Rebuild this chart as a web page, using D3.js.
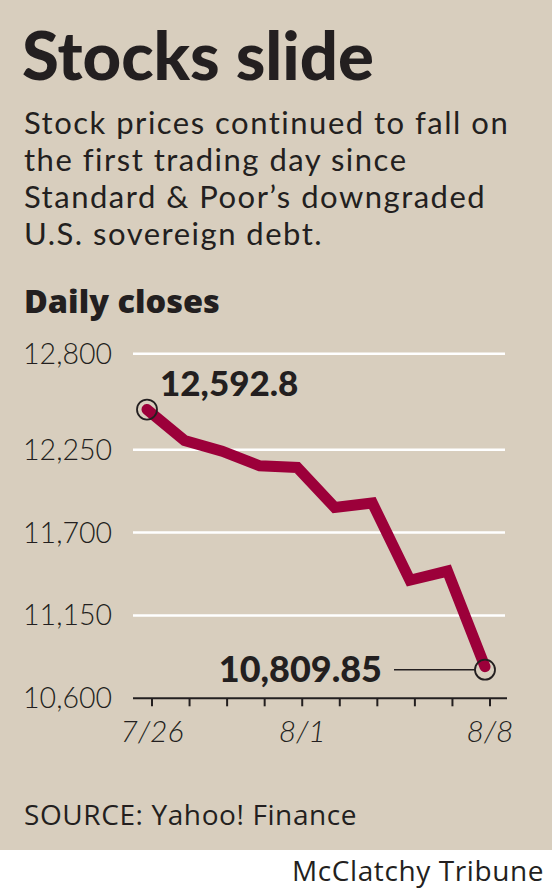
<!DOCTYPE html>
<html>
<head>
<meta charset="utf-8">
<script src="https://cdn.jsdelivr.net/npm/d3@7"></script>
<style>
  html, body { margin: 0; padding: 0; background: #ffffff; }
  svg { display: block; }
</style>
</head>
<body>
<svg id="chart" width="552" height="892"></svg>
<script>
// ---- data ----
const dates = ["7/26", "7/27", "7/28", "7/29", "8/1", "8/2", "8/3", "8/4", "8/5", "8/8"];
const closes = [12480, 12302.55, 12240.11, 12143.24, 12132.49, 11866.62, 11896.44, 11383.68, 11444.61, 10809.85];
const yTicks = [10600, 11150, 11700, 12250, 12800];
const xTickLabels = ["7/26", "8/1", "8/8"];
const firstLabel = "12,592.8";
const lastLabel = "10,809.85";
const title = "Stocks slide";
const subtitle = ["Stock prices continued to fall on", "the first trading day since", "Standard & Poor\u2019s downgraded", "U.S. sovereign debt."];
const chartLabel = "Daily closes";
const source = "SOURCE: Yahoo! Finance";
const credit = "McClatchy Tribune";

// ---- styles ----
const BG = "#d8cebe", INK = "#231f20", RED = "#9c003a";
const HEAVY = "Lato, sans-serif";
const BODY = "'Open Sans', Lato, sans-serif";

const svg = d3.select("#chart");
svg.append("rect").attr("x", 0).attr("y", 0).attr("width", 552).attr("height", 850).attr("fill", BG);

// header
svg.append("text").attr("x", 22).attr("y", 80)
  .attr("font-family", HEAVY).attr("font-weight", 900).attr("font-size", 67)
  .attr("fill", INK).text(title);

svg.append("g").selectAll("text").data(subtitle).join("text")
  .attr("x", 24).attr("y", (d, i) => 133.5 + i * 37.3)
  .attr("font-family", HEAVY).attr("font-weight", 400).attr("font-size", 31)
  .attr("letter-spacing", 1.5)
  .attr("fill", INK).text(d => d);

svg.append("text").attr("x", 24).attr("y", 313)
  .attr("font-family", BODY).attr("font-weight", 800).attr("font-size", 32.5)
  .attr("fill", INK).text(chartLabel);

// scales
const left = 133, right = 507;
const x = d3.scalePoint().domain(dates).range([147, 485]);
const y = d3.scaleLinear().domain([10600, 12250, 12800]).range([698.3, 449.7, 353.7]);

// gridlines
svg.append("g").selectAll("line").data(yTicks.filter(v => v !== 10600)).join("line")
  .attr("x1", left).attr("x2", right - 2)
  .attr("y1", d => y(d)).attr("y2", d => y(d))
  .attr("stroke", "#ffffff").attr("stroke-width", 2.6);

// y labels
svg.append("g").selectAll("text").data(yTicks).join("text")
  .attr("x", 112).attr("y", d => y(d) + 10)
  .attr("text-anchor", "end")
  .attr("font-family", HEAVY).attr("font-weight", 300).attr("font-size", 28.5)
  .attr("fill", INK).text(d => d3.format(",")(d));

// x axis
svg.append("line").attr("x1", left).attr("x2", right)
  .attr("y1", y(10600)).attr("y2", y(10600))
  .attr("stroke", INK).attr("stroke-width", 2);

const xAxis = d3.axisBottom(x).tickSize(8).tickPadding(14)
  .tickFormat(d => xTickLabels.includes(d) ? d : "");
const gx = svg.append("g").attr("transform", `translate(4.5,${y(10600)})`).call(xAxis);
gx.select(".domain").remove();
gx.selectAll(".tick line").attr("stroke", INK).attr("stroke-width", 2);
gx.selectAll(".tick text")
  .attr("font-family", HEAVY).attr("font-weight", 300).attr("font-style", "italic")
  .attr("font-size", 30).attr("fill", INK).attr("dy", "0.71em");

// line
const line = d3.line().x((d, i) => x(dates[i])).y(d => y(d));
svg.append("path").datum(closes)
  .attr("d", line).attr("fill", "none").attr("stroke", RED)
  .attr("stroke-width", 11).attr("stroke-linecap", "round").attr("stroke-linejoin", "miter");

// end circles
const ends = [0, closes.length - 1];
svg.append("g").selectAll("circle").data(ends).join("circle")
  .attr("cx", i => x(dates[i])).attr("cy", i => y(closes[i]) + (i === 0 ? 0 : 3))
  .attr("r", 10).attr("fill", "none").attr("stroke", INK).attr("stroke-width", 1.8);

// leader line to last point
const lx = x(dates[dates.length - 1]), ly = y(closes[closes.length - 1]) + 3;
svg.append("line").attr("x1", 394).attr("x2", lx - 10).attr("y1", ly).attr("y2", ly)
  .attr("stroke", INK).attr("stroke-width", 1.6);

// value labels
svg.append("text").attr("x", x(dates[0]) + 13).attr("y", 395.5)
  .attr("font-family", HEAVY).attr("font-weight", 900).attr("font-size", 35)
  .attr("fill", INK).text(firstLabel);
svg.append("text").attr("x", 382).attr("y", 681.5).attr("text-anchor", "end")
  .attr("font-family", HEAVY).attr("font-weight", 900).attr("font-size", 36)
  .attr("fill", INK).text(lastLabel);

// footer
svg.append("text").attr("x", 24).attr("y", 825)
  .attr("font-family", BODY).attr("font-weight", 400).attr("font-size", 28)
  .attr("letter-spacing", 0.6)
  .attr("fill", INK).text(source);
svg.append("text").attr("x", 544).attr("y", 881).attr("text-anchor", "end")
  .attr("font-family", BODY).attr("font-weight", 400).attr("font-size", 28)
  .attr("letter-spacing", 0.6)
  .attr("fill", INK).text(credit);
</script>
</body>
</html>
